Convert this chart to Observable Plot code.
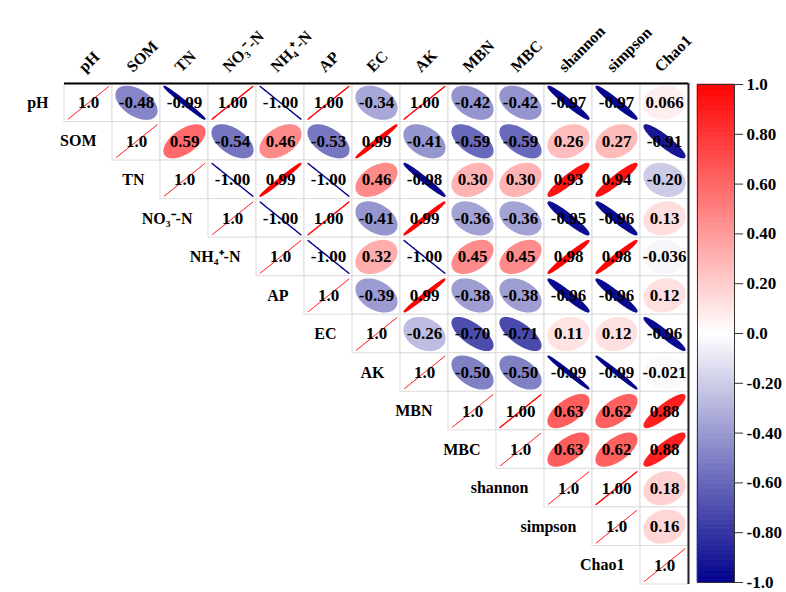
<!DOCTYPE html>
<html>
<head>
<meta charset="utf-8">
<script src="https://cdn.jsdelivr.net/npm/d3@7"></script>
<script src="https://cdn.jsdelivr.net/npm/@observablehq/plot@0.6"></script>
<style>
  html, body { margin: 0; padding: 0; background: #fff; }
  #chart { position: relative; width: 786px; height: 592px; }
  #chart svg { position: absolute; top: 0; overflow: visible; }
</style>
</head>
<body>
<div id="chart"></div>
<script>
// Variables (rows and columns of the correlation matrix)
const variables = ["pH", "SOM", "TN", "NO₃⁻-N", "NH₄⁺-N", "AP", "EC", "AK", "MBN", "MBC", "shannon", "simpson", "Chao1"];

// Upper-triangle Pearson correlations, one list per row starting at the diagonal
const rowPH      = [1.0, -0.48, -0.99, 1.00, -1.00, 1.00, -0.34, 1.00, -0.42, -0.42, -0.97, -0.97, 0.066];
const rowSOM     = [1.0, 0.59, -0.54, 0.46, -0.53, 0.99, -0.41, -0.59, -0.59, 0.26, 0.27, -0.91];
const rowTN      = [1.0, -1.00, 0.99, -1.00, 0.46, -0.98, 0.30, 0.30, 0.93, 0.94, -0.20];
const rowNO3     = [1.0, -1.00, 1.00, -0.41, 0.99, -0.36, -0.36, -0.95, -0.96, 0.13];
const rowNH4     = [1.0, -1.00, 0.32, -1.00, 0.45, 0.45, 0.98, 0.98, -0.036];
const rowAP      = [1.0, -0.39, 0.99, -0.38, -0.38, -0.96, -0.96, 0.12];
const rowEC      = [1.0, -0.26, -0.70, -0.71, 0.11, 0.12, -0.96];
const rowAK      = [1.0, -0.50, -0.50, -0.99, -0.99, -0.021];
const rowMBN     = [1.0, 1.00, 0.63, 0.62, 0.88];
const rowMBC     = [1.0, 0.63, 0.62, 0.88];
const rowShannon = [1.0, 1.00, 0.18];
const rowSimpson = [1.0, 0.16];
const rowChao1   = [1.0];

// Colour bar ticks
const barTicks = [1.0, 0.8, 0.6, 0.4, 0.2, 0.0, -0.2, -0.4, -0.6, -0.8, -1.0];
const barTickLabels = ["1.0", "0.80", "0.60", "0.40", "0.20", "0.0", "-0.20", "-0.40", "-0.60", "-0.80", "-1.0"];

const rows = [rowPH, rowSOM, rowTN, rowNO3, rowNH4, rowAP, rowEC, rowAK, rowMBN, rowMBC, rowShannon, rowSimpson, rowChao1];

// Flatten into cells: row i, column j (j >= i)
const cells = [];
rows.forEach((vals, i) => vals.forEach((r, k) => cells.push({i, j: i + k, r, diag: k === 0})));

const fmt = (c) => c.diag ? "1.0" : (Math.abs(c.r) < 0.1 ? c.r.toPrecision(2) : c.r.toFixed(2));

// Ellipse outline for a correlation r (corrplot-style), in cell units
function ellipse(c, n = 100) {
  const d = Math.acos(Math.max(-1, Math.min(1, c.r)));
  const pts = [];
  for (let k = 0; k < n; k++) {
    const t = (2 * Math.PI * k) / n;
    const ex = 0.85 * Math.cos(t + d / 2) / 2;
    const ey = 0.85 * Math.cos(t - d / 2) / 2;
    pts.push({id: `${c.i}-${c.j}`, r: c.r, diag: c.diag, x: c.j + 0.5 + ex, y: c.i + 0.5 - ey});
  }
  return pts;
}
const ellDiag = cells.filter(c => c.diag).flatMap(c => ellipse(c));
const ellOff = cells.filter(c => !c.diag).flatMap(c => ellipse(c));

const colorScale = {
  type: "linear",
  domain: [-1, 0, 1],
  range: ["#00008B", "#FFFFFF", "#FF0000"],
  interpolate: "rgb"
};

const serif = "'Liberation Serif', 'Times New Roman', serif";
const n = variables.length;

const main = Plot.plot({
  width: 786,
  height: 592,
  margin: 0,
  style: {fontFamily: serif, background: "transparent", overflow: "visible"},
  x: {domain: [0, n], range: [64, 688], axis: null},
  y: {domain: [0, n], range: [83, 584], axis: null},
  color: colorScale,
  marks: [
    // cell grid
    Plot.rect(cells, {x1: "j", x2: d => d.j + 1, y1: "i", y2: d => d.i + 1, fill: "white", stroke: "#dcdcdc", strokeWidth: 1}),
    // ellipses
    Plot.line(ellOff, {x: "x", y: "y", z: "id", fill: "r", stroke: "r", strokeWidth: 1.4, curve: "linear-closed"}),
    Plot.line(ellDiag, {x: "x", y: "y", z: "id", fill: "r", stroke: "r", strokeWidth: 1, strokeOpacity: 0.6, curve: "linear-closed"}),
    // coefficients
    Plot.text(cells, {x: d => d.j + 0.5, y: d => d.i + 0.5, text: fmt, fontSize: 17, fontWeight: "bold", fill: "black"}),
    // top and right border
    Plot.ruleY([0], {x1: 0, x2: n, stroke: "black", strokeWidth: 2}),
    Plot.ruleX([n], {y1: 0, y2: n, stroke: "#222", strokeWidth: 2}),
    // row labels, left of the diagonal
    Plot.text(variables, {x: (d, i) => i, y: (d, i) => i + 0.5, text: d => d, textAnchor: "end", dx: -16, fontSize: 16, fontWeight: "bold", fill: "black"}),
    // column labels, rotated above the matrix
    Plot.text(variables, {x: (d, i) => i + 0.5, y: () => 0, text: d => d, textAnchor: "start", rotate: -45, dx: -7, dy: -14, fontSize: 16, fontWeight: "bold", fill: "black"})
  ]
});

// Colour bar
const barSteps = d3.range(-1, 1, 0.01).map(v => ({v0: v, v1: v + 0.01, v: v + 0.005}));
const bar = Plot.plot({
  width: 96,
  height: 592,
  marginTop: 84,
  marginBottom: 10,
  marginLeft: 7,
  marginRight: 52,
  style: {fontFamily: serif, background: "transparent", overflow: "visible"},
  x: {domain: [0, 1], axis: null},
  y: {domain: [-1, 1], axis: null},
  color: colorScale,
  marks: [
    Plot.rect(barSteps, {x1: 0, x2: 1, y1: "v0", y2: "v1", fill: "v", stroke: "v", strokeWidth: 0.6}),
    Plot.frame({stroke: "#333", strokeWidth: 1}),
    Plot.axisY({anchor: "right", ticks: barTicks, tickSize: 8, tickPadding: 4,
      tickFormat: (d) => barTickLabels[barTicks.findIndex(t => Math.abs(t - d) < 1e-9)],
      fontSize: 17, fontWeight: "bold", stroke: "#333", fill: "black", label: null})
  ]
});

const holder = document.getElementById("chart");
main.style.left = "0px";
bar.style.left = "690px";
holder.appendChild(main);
holder.appendChild(bar);
</script>
</body>
</html>
